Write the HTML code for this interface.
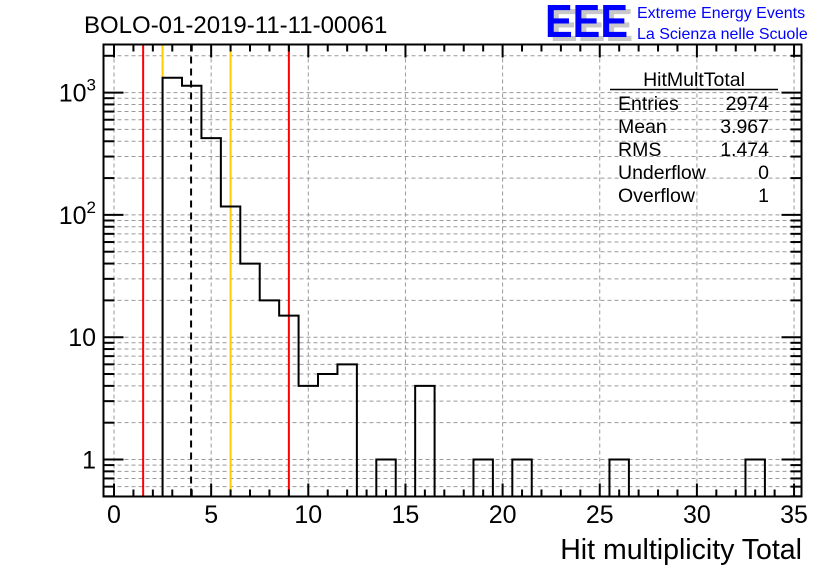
<!DOCTYPE html>
<html><head><meta charset="utf-8"><style>
body{margin:0;background:#fff;}
svg{display:block;font-family:"Liberation Sans",sans-serif;}
</style></head><body>
<svg id="c" width="836" height="572" viewBox="0 0 836 572">
<rect x="0" y="0" width="836" height="572" fill="#fff"/>
<text x="84" y="33" font-size="24">BOLO-01-2019-11-11-00061</text>
<g>
<text x="550" y="41" font-size="46" font-weight="bold" fill="#c8c8c8" textLength="83" lengthAdjust="spacingAndGlyphs">EEE</text>
<text x="545" y="37" font-size="46" font-weight="bold" fill="#0000ff" textLength="83" lengthAdjust="spacingAndGlyphs">EEE</text>
<text x="637" y="18" font-size="16" fill="#0000ff">Extreme Energy Events</text>
<text x="637" y="39" font-size="16" fill="#0000ff">La Scienza nelle Scuole</text>
</g>
<g id="grid"></g>
<g id="marks"></g>
<g id="axes"></g>
<g font-size="19.5">
<text x="694" y="86" text-anchor="middle">HitMultTotal</text>
<line x1="610" y1="89.5" x2="778" y2="89.5" stroke="#000" stroke-width="1.5"/>
<text x="618" y="110">Entries</text><text x="769" y="110" text-anchor="end">2974</text>
<text x="618" y="133">Mean</text><text x="769" y="133" text-anchor="end">3.967</text>
<text x="618" y="156">RMS</text><text x="769" y="156" text-anchor="end">1.474</text>
<text x="618" y="179">Underflow</text><text x="769" y="179" text-anchor="end">0</text>
<text x="618" y="202">Overflow</text><text x="769" y="202" text-anchor="end">1</text>
</g>
<text x="802" y="559" font-size="28.5" text-anchor="end">Hit multiplicity Total</text>
</svg>
<script>
const binCenters=[3,4,5,6,7,8,9,10,11,12,14,16,19,21,26,33];
const binCounts=[1322,1137,424,117,40,20,15,4,5,6,1,4,1,1,1,1];
const xTicks=[0,5,10,15,20,25,30,35];
const yTickValues=[1,10,100,1000];
const yTickLabels=["1","10","10²","10³"];
const redLines=[1.5,9];
const orangeLines=[2.5,6];
const meanLine=[3.967];
const L=103.5,R=801.5,T=44.5,B=496.5;
const X=v=>114+v*19.43;
const Y=v=>459.5-Math.log10(v)*122.3;
const NS="http://www.w3.org/2000/svg";
function mk(tag,attrs,parent){const e=document.createElementNS(NS,tag);for(const k in attrs)e.setAttribute(k,attrs[k]);parent.appendChild(e);return e;}
const grid=document.getElementById('grid'),marks=document.getElementById('marks'),axes=document.getElementById('axes');
xTicks.forEach(v=>{const l=mk('line',{x1:X(v),x2:X(v),y1:T,y2:B,stroke:'#999','stroke-dasharray':'4,3','stroke-width':1},grid);

});
for(let d=-1;d<=3;d++){for(let m=1;m<=9;m++){const v=m*Math.pow(10,d);const y=Y(v);if(y<T||y>B)continue;
const l=mk('line',{x1:L,x2:R,y1:y,y2:y,stroke:'#999','stroke-dasharray':'4,3','stroke-width':1},grid);

}}
redLines.forEach(v=>{const l=mk('line',{x1:X(v),x2:X(v),y1:T,y2:B,stroke:'#ff0000','stroke-width':2},marks);

});
orangeLines.forEach(v=>{const l=mk('line',{x1:X(v),x2:X(v),y1:T,y2:B,stroke:'#ffcc00','stroke-width':2},marks);

});
let d='';
binCenters.forEach((c,i)=>{const x0=X(c-0.5),x1=X(c+0.5),y=Y(binCounts[i]);
const adj=i>0&&binCenters[i-1]===c-1;
if(adj){d+=`L${x0},${y}`;}else{d+=`M${x0},${B}L${x0},${y}`;}
d+=`L${x1},${y}`;
const nextAdj=i<binCenters.length-1&&binCenters[i+1]===c+1;
if(!nextAdj)d+=`L${x1},${B}`;});
const h=mk('path',{d:d,fill:'none',stroke:'#000','stroke-width':2},marks);


meanLine.forEach(v=>{const l=mk('line',{x1:X(v),x2:X(v),y1:T,y2:B,stroke:'#000','stroke-width':2,'stroke-dasharray':'7,5'},marks);

});
const f=mk('rect',{x:L,y:T,width:R-L,height:B-T,fill:'none',stroke:'#000','stroke-width':2},axes);


for(let v=0;v<=35;v++){const x=X(v);const len=v%5===0?13:7;
mk('line',{x1:x,x2:x,y1:B,y2:B-len,stroke:'#000','stroke-width':2},axes);
mk('line',{x1:x,x2:x,y1:T,y2:T+len,stroke:'#000','stroke-width':2},axes);}
xTicks.forEach(v=>{const t=mk('text',{x:X(v),y:523,'font-size':25,'text-anchor':'middle'},axes);t.textContent=v;

});
for(let dd=-1;dd<=3;dd++){for(let m=1;m<=9;m++){const v=m*Math.pow(10,dd);const y=Y(v);if(y<T||y>B)continue;const len=m===1?20:11;
mk('line',{x1:L,x2:L+len,y1:y,y2:y,stroke:'#000','stroke-width':2},axes);
mk('line',{x1:R,x2:R-len,y1:y,y2:y,stroke:'#000','stroke-width':2},axes);}}
yTickValues.forEach((v,i)=>{const t=mk('text',{x:96,y:Y(v)+9,'font-size':25,'text-anchor':'end'},axes);


const lab=yTickLabels[i];
if(lab==='10²'||lab==='10³'){t.textContent='10';const s=mk('tspan',{dy:-11,'font-size':17},t);s.textContent=lab==='10²'?'2':'3';}
else t.textContent=lab;});
</script>
</body></html>
